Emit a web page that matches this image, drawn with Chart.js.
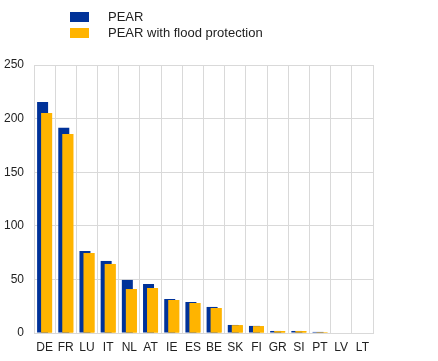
<!DOCTYPE html>
<html>
<head>
<meta charset="utf-8">
<script src="https://cdn.jsdelivr.net/npm/chart.js@4/dist/chart.umd.min.js"></script>
<style>
  html, body { margin: 0; padding: 0; background: #fff; }
  #wrap { position: relative; width: 438px; height: 361px; }
  #legend { position: absolute; left: 70px; top: 9px; font-family: "Liberation Sans", Arial, sans-serif; font-size: 13px; color: #222; }
  .item { position: relative; height: 16px; line-height: 16px; }
  .box { position: absolute; left: 0; top: 3px; width: 19px; height: 10px; }
  .txt { position: absolute; left: 38px; top: 0; white-space: nowrap; }
</style>
</head>
<body>
<div id="wrap">
  <canvas id="myChart" width="438" height="361"></canvas>
  <div id="legend"></div>
</div>
<script>
var countries = ["DE", "FR", "LU", "IT", "NL", "AT", "IE", "ES", "BE", "SK", "FI", "GR", "SI", "PT", "LV", "LT"];
var pear = [215.5, 191.5, 76.5, 67.2, 49.5, 45.7, 31.7, 28.9, 24.3, 7.5, 6.6, 1.9, 1.9, 1.0, 0, 0];
var pearFlood = [205.2, 185.6, 74.6, 64.4, 41.0, 42.0, 30.8, 28.0, 23.3, 7.3, 6.4, 1.8, 1.8, 0.8, 0, 0];
var yTicks = [0, 50, 100, 150, 200, 250];

var seriesNames = ["PEAR", "PEAR with flood protection"];
var colours = ["#003299", "#FFB400"];
var gridColour = "#d9d9d9";
var font = { family: "'Liberation Sans', Arial, sans-serif", size: 12 };

// draw the yellow series again so it sits over the blue one
var yellowOnTop = {
    id: 'yellowOnTop',
    afterDatasetsDraw: function (chart) {
        var meta = chart.getDatasetMeta(1);
        meta.data.forEach(function (el) { el.draw(chart.ctx); });
    }
};

var chart = new Chart(document.getElementById('myChart'), {
    type: 'bar',
    data: {
        labels: countries,
        datasets: [
            { label: seriesNames[0], data: pear, backgroundColor: colours[0],
              categoryPercentage: 0.3776, barPercentage: 2.75 },
            { label: seriesNames[1], data: pearFlood, backgroundColor: colours[1],
              categoryPercentage: 0.3776, barPercentage: 2.75 }
        ]
    },
    options: {
        responsive: false,
        animation: false,
        layout: { padding: { top: 65, right: 65, left: 0, bottom: 0 } },
        plugins: { legend: { display: false }, tooltip: { enabled: false } },
        scales: {
            x: {
                grid: { color: gridColour, drawTicks: false, offset: true },
                border: { color: gridColour },
                ticks: { color: '#222', font: font, padding: 7, maxRotation: 0, autoSkip: false },
                afterFit: function (s) { s.height = 28; }
            },
            y: {
                min: yTicks[0],
                max: yTicks[yTicks.length - 1],
                afterBuildTicks: function (s) { s.ticks = yTicks.map(function (v) { return { value: v }; }); },
                grid: { color: gridColour, drawTicks: false },
                border: { color: gridColour },
                ticks: { color: '#222', font: font, padding: 10 },
                afterFit: function (s) { s.width = 34; }
            }
        }
    },
    plugins: [yellowOnTop]
});

var legend = document.getElementById('legend');
seriesNames.forEach(function (name, i) {
    var item = document.createElement('div');
    item.className = 'item';
    item.innerHTML = '<span class="box" style="background:' + colours[i] + '"></span><span class="txt">' + name + '</span>';
    legend.appendChild(item);
});
</script>
</body>
</html>
